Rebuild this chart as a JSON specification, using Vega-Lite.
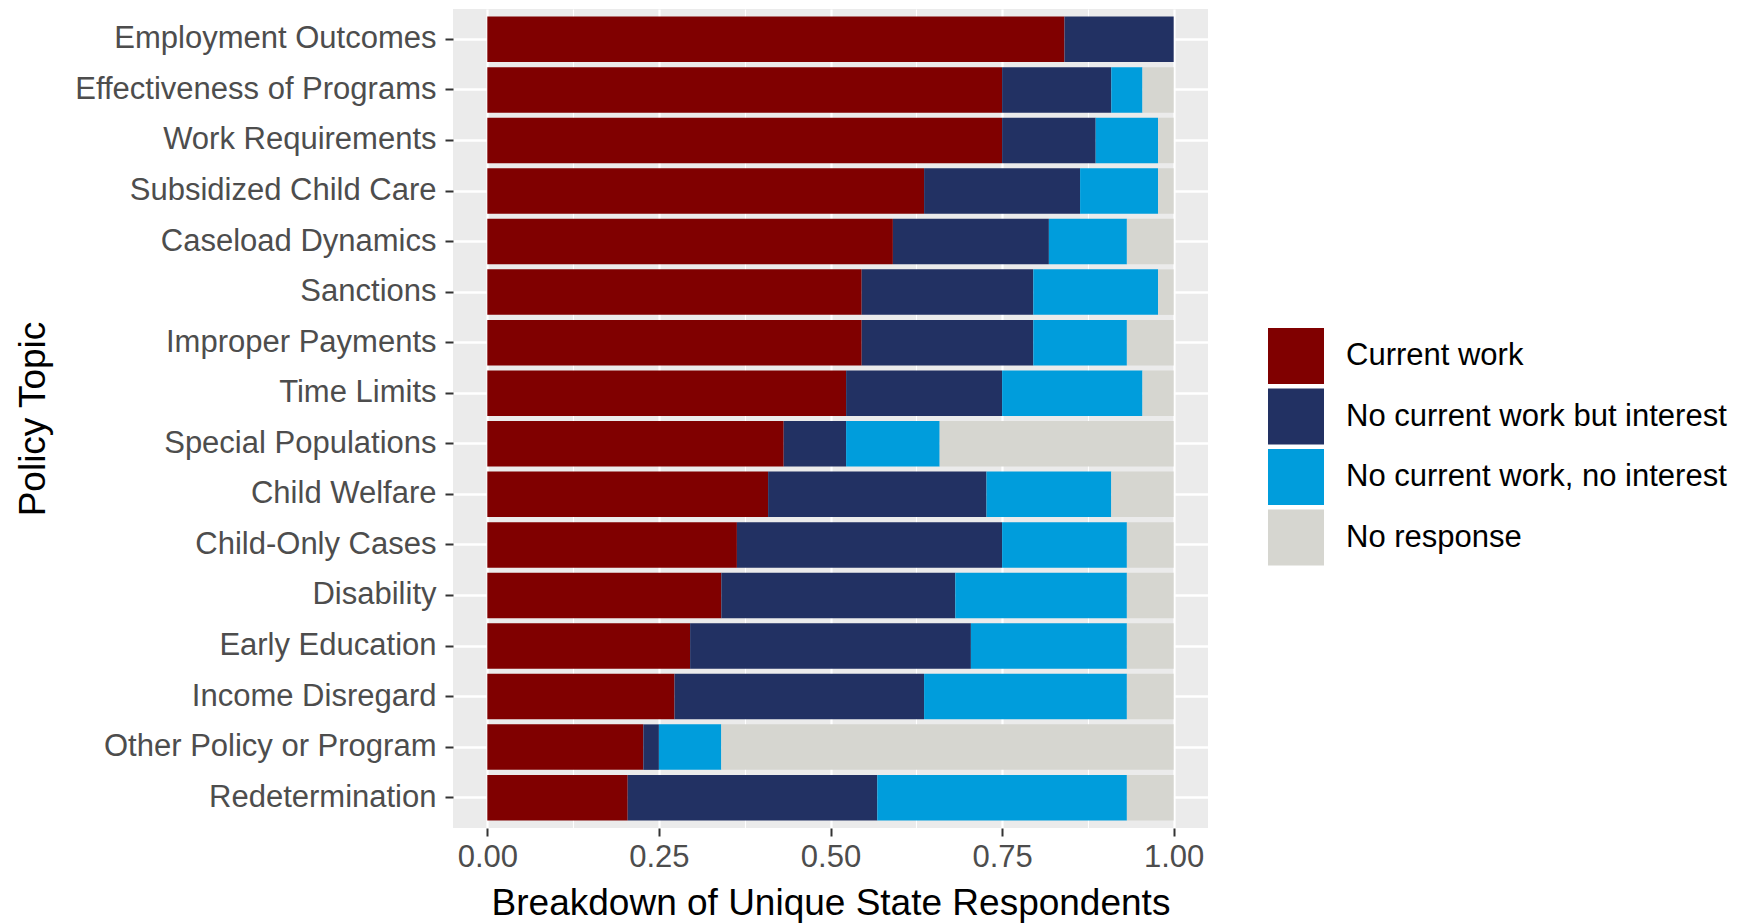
{
  "$schema": "https://vega.github.io/schema/vega-lite/v6.json",
  "autosize": {"type": "none"},
  "padding": {"left": 453, "top": 9, "right": 546, "bottom": 95},
  "width": 755,
  "height": 819,
  "background": "white",
  "config": {
    "font": "Liberation Sans",
    "view": {"fill": "#EBEBEB", "stroke": null}
  },
  "data": {
    "values": [
      {"topic": "Employment Outcomes", "status": "Current work", "n": 37},
      {"topic": "Employment Outcomes", "status": "No current work but interest", "n": 7},
      {"topic": "Employment Outcomes", "status": "No current work, no interest", "n": 0},
      {"topic": "Employment Outcomes", "status": "No response", "n": 0},
      {"topic": "Effectiveness of Programs", "status": "Current work", "n": 33},
      {"topic": "Effectiveness of Programs", "status": "No current work but interest", "n": 7},
      {"topic": "Effectiveness of Programs", "status": "No current work, no interest", "n": 2},
      {"topic": "Effectiveness of Programs", "status": "No response", "n": 2},
      {"topic": "Work Requirements", "status": "Current work", "n": 33},
      {"topic": "Work Requirements", "status": "No current work but interest", "n": 6},
      {"topic": "Work Requirements", "status": "No current work, no interest", "n": 4},
      {"topic": "Work Requirements", "status": "No response", "n": 1},
      {"topic": "Subsidized Child Care", "status": "Current work", "n": 28},
      {"topic": "Subsidized Child Care", "status": "No current work but interest", "n": 10},
      {"topic": "Subsidized Child Care", "status": "No current work, no interest", "n": 5},
      {"topic": "Subsidized Child Care", "status": "No response", "n": 1},
      {"topic": "Caseload Dynamics", "status": "Current work", "n": 26},
      {"topic": "Caseload Dynamics", "status": "No current work but interest", "n": 10},
      {"topic": "Caseload Dynamics", "status": "No current work, no interest", "n": 5},
      {"topic": "Caseload Dynamics", "status": "No response", "n": 3},
      {"topic": "Sanctions", "status": "Current work", "n": 24},
      {"topic": "Sanctions", "status": "No current work but interest", "n": 11},
      {"topic": "Sanctions", "status": "No current work, no interest", "n": 8},
      {"topic": "Sanctions", "status": "No response", "n": 1},
      {"topic": "Improper Payments", "status": "Current work", "n": 24},
      {"topic": "Improper Payments", "status": "No current work but interest", "n": 11},
      {"topic": "Improper Payments", "status": "No current work, no interest", "n": 6},
      {"topic": "Improper Payments", "status": "No response", "n": 3},
      {"topic": "Time Limits", "status": "Current work", "n": 23},
      {"topic": "Time Limits", "status": "No current work but interest", "n": 10},
      {"topic": "Time Limits", "status": "No current work, no interest", "n": 9},
      {"topic": "Time Limits", "status": "No response", "n": 2},
      {"topic": "Special Populations", "status": "Current work", "n": 19},
      {"topic": "Special Populations", "status": "No current work but interest", "n": 4},
      {"topic": "Special Populations", "status": "No current work, no interest", "n": 6},
      {"topic": "Special Populations", "status": "No response", "n": 15},
      {"topic": "Child Welfare", "status": "Current work", "n": 18},
      {"topic": "Child Welfare", "status": "No current work but interest", "n": 14},
      {"topic": "Child Welfare", "status": "No current work, no interest", "n": 8},
      {"topic": "Child Welfare", "status": "No response", "n": 4},
      {"topic": "Child-Only Cases", "status": "Current work", "n": 16},
      {"topic": "Child-Only Cases", "status": "No current work but interest", "n": 17},
      {"topic": "Child-Only Cases", "status": "No current work, no interest", "n": 8},
      {"topic": "Child-Only Cases", "status": "No response", "n": 3},
      {"topic": "Disability", "status": "Current work", "n": 15},
      {"topic": "Disability", "status": "No current work but interest", "n": 15},
      {"topic": "Disability", "status": "No current work, no interest", "n": 11},
      {"topic": "Disability", "status": "No response", "n": 3},
      {"topic": "Early Education", "status": "Current work", "n": 13},
      {"topic": "Early Education", "status": "No current work but interest", "n": 18},
      {"topic": "Early Education", "status": "No current work, no interest", "n": 10},
      {"topic": "Early Education", "status": "No response", "n": 3},
      {"topic": "Income Disregard", "status": "Current work", "n": 12},
      {"topic": "Income Disregard", "status": "No current work but interest", "n": 16},
      {"topic": "Income Disregard", "status": "No current work, no interest", "n": 13},
      {"topic": "Income Disregard", "status": "No response", "n": 3},
      {"topic": "Other Policy or Program", "status": "Current work", "n": 10},
      {"topic": "Other Policy or Program", "status": "No current work but interest", "n": 1},
      {"topic": "Other Policy or Program", "status": "No current work, no interest", "n": 4},
      {"topic": "Other Policy or Program", "status": "No response", "n": 29},
      {"topic": "Redetermination", "status": "Current work", "n": 9},
      {"topic": "Redetermination", "status": "No current work but interest", "n": 16},
      {"topic": "Redetermination", "status": "No current work, no interest", "n": 16},
      {"topic": "Redetermination", "status": "No response", "n": 3}
    ]
  },
  "mark": {"type": "bar", "strokeWidth": 0},
  "encoding": {
    "y": {
      "field": "topic",
      "type": "nominal",
      "sort": ["Employment Outcomes", "Effectiveness of Programs", "Work Requirements", "Subsidized Child Care", "Caseload Dynamics", "Sanctions", "Improper Payments", "Time Limits", "Special Populations", "Child Welfare", "Child-Only Cases", "Disability", "Early Education", "Income Disregard", "Other Policy or Program", "Redetermination"],
      "scale": {"paddingInner": 0.1, "paddingOuter": 0.15},
      "axis": {
        "title": "Policy Topic",
        "titleFontSize": 37,
        "titleFontWeight": "normal",
        "titleColor": "#000000",
        "titleAngle": -90,
        "titleX": -420,
        "titleY": 409.5,
        "titleAlign": "center",
        "titleBaseline": "middle",
        "labelFontSize": 31,
        "labelColor": "#4D4D4D",
        "labelPadding": 9,
        "labelLimit": 1000,
        "tickSize": 8,
        "tickWidth": 2,
        "tickColor": "#333333",
        "domain": false,
        "grid": true,
        "gridColor": "#FFFFFF",
        "gridWidth": 2.5
      }
    },
    "x": {
      "field": "n",
      "type": "quantitative",
      "stack": "normalize",
      "scale": {"domain": [-0.05, 1.05], "nice": false, "zero": false},
      "axis": {
        "title": "Breakdown of Unique State Respondents",
        "titleFontSize": 37,
        "titleFontWeight": "normal",
        "titleColor": "#000000",
        "titleY": 86,
        "titleBaseline": "alphabetic",
        "values": [0, 0.125, 0.25, 0.375, 0.5, 0.625, 0.75, 0.875, 1],
        "labelExpr": "datum.value % 0.25 === 0 ? format(datum.value, '.2f') : ''",
        "labelFontSize": 31,
        "labelColor": "#4D4D4D",
        "labelPadding": 6,
        "labelFlush": false,
        "tickSize": 8,
        "tickWidth": 2,
        "tickColor": {"condition": {"test": "datum.value % 0.25 === 0", "value": "#333333"}, "value": "transparent"},
        "domain": false,
        "grid": true,
        "gridColor": "#FFFFFF",
        "gridWidth": {"condition": {"test": "datum.value % 0.25 === 0", "value": 2.2}, "value": 1.1}
      }
    },
    "color": {
      "field": "status",
      "type": "nominal",
      "scale": {
        "domain": ["Current work", "No current work but interest", "No current work, no interest", "No response"],
        "range": ["#800000", "#223163", "#009DDC", "#D6D6D0"]
      },
      "legend": {
        "title": null,
        "orient": "none",
        "legendX": 815,
        "legendY": 319,
        "symbolType": "square",
        "symbolSize": 3136,
        "symbolStrokeWidth": 0,
        "symbolOpacity": 1,
        "labelFontSize": 31,
        "labelColor": "#000000",
        "labelOffset": 22,
        "labelLimit": 1000,
        "rowPadding": 4.5
      }
    },
    "order": {"field": "status", "sort": "ascending"}
  }
}
